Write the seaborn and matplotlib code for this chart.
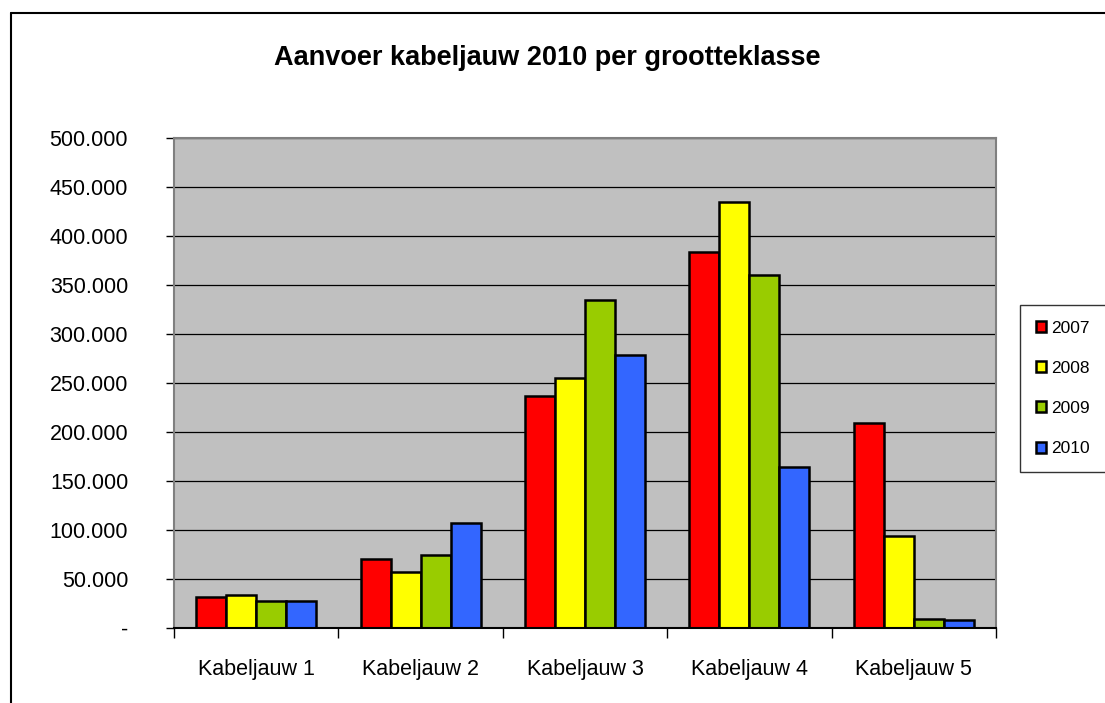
# Aanvoer kabeljauw 2010 per grootteklasse - grouped bar chart
import pandas as pd
import numpy as np
import matplotlib
matplotlib.use("Agg")
import matplotlib.pyplot as plt
from matplotlib.lines import Line2D
from matplotlib.ticker import FuncFormatter
import seaborn as sns

# ------------------------------------------
# DATA
# ------------------------------------------
categories = ["Kabeljauw 1", "Kabeljauw 2", "Kabeljauw 3", "Kabeljauw 4", "Kabeljauw 5"]
years = ["2007", "2008", "2009", "2010"]

val_2007 = [31600, 70400, 237000, 384000, 209000]
val_2008 = [34100, 57000, 255000, 434700, 93900]
val_2009 = [27200, 74000, 334700, 360000, 9200]
val_2010 = [27200, 107000, 278600, 164600, 7900]

colors = ["#FF0000", "#FFFF00", "#99CC00", "#3366FF"]

rows = []
for year, vals in zip(years, [val_2007, val_2008, val_2009, val_2010]):
    for cat, v in zip(categories, vals):
        rows.append({"Klasse": cat, "Jaar": year, "Aanvoer": v})
df = pd.DataFrame(rows)

# ------------------------------------------
# PLOT
# ------------------------------------------
sns.set_theme(style="white")
plt.rcParams["font.family"] = ["Liberation Sans", "DejaVu Sans"]
plt.rcParams["text.color"] = "black"
plt.rcParams["xtick.color"] = "black"
plt.rcParams["ytick.color"] = "black"
plt.rcParams["axes.labelcolor"] = "black"

fig = plt.figure(figsize=(11.05, 7.03), dpi=100)
ax = fig.add_axes([174 / 1105, 1 - 628 / 703, (996 - 174) / 1105, (628 - 138) / 703])

sns.barplot(data=df, x="Klasse", y="Aanvoer", hue="Jaar", hue_order=years,
            palette=colors, width=0.73, edgecolor="black", linewidth=1.8,
            saturation=1, ax=ax)

ax.set_facecolor("#C0C0C0")
ax.set_axisbelow(True)
ax.set_ylim(0, 500000)
ax.set_xlim(-0.5, 4.5)
ax.set_yticks(np.arange(0, 500001, 50000))
ax.yaxis.grid(True, color="black", linewidth=0.9)
ax.xaxis.grid(False)


def fmt(v, pos):
    if v == 0:
        return "-"
    return f"{int(v):,}".replace(",", ".")


ax.yaxis.set_major_formatter(FuncFormatter(fmt))
ax.set_xlabel("")
ax.set_ylabel("")

ax.tick_params(axis="y", which="major", direction="out", length=6, width=1,
               color="black", labelcolor="black", labelsize=15.5, pad=27, left=True)
ax.tick_params(axis="x", which="major", length=0, labelsize=15.5,
               labelcolor="black", pad=22)
ax.set_xticks(np.arange(-0.5, 5, 1), minor=True)
ax.tick_params(axis="x", which="minor", direction="out", length=7, width=1,
               color="black", bottom=True)

for side in ["top", "right", "left"]:
    ax.spines[side].set_color("#808080")
    ax.spines[side].set_linewidth(1.5)
ax.spines["bottom"].set_color("black")
ax.spines["bottom"].set_linewidth(1.5)

# legend
handles, labels = ax.get_legend_handles_labels()
ax.get_legend().remove()
leg = fig.legend(handles, labels, loc="upper left",
                 bbox_to_anchor=(1020 / 1105, 1 - 305 / 703),
                 bbox_transform=fig.transFigure, borderaxespad=0,
                 fontsize=12.5, handlelength=0.6, handleheight=0.6,
                 handletextpad=0.3, labelspacing=1.45, borderpad=0.9,
                 fancybox=False, frameon=True, edgecolor="black")
leg.get_frame().set_linewidth(1.0)

# title
fig.text(547 / 1105, 1 - 58 / 703, "Aanvoer kabeljauw 2010 per grootteklasse",
         ha="center", va="center", fontsize=19.5, fontweight="bold", color="black")

# chart border
fig.add_artist(Line2D([11 / 1105, 1], [1 - 13 / 703, 1 - 13 / 703],
                      transform=fig.transFigure, color="black", linewidth=1.5))
fig.add_artist(Line2D([11 / 1105, 11 / 1105], [0, 1 - 13 / 703],
                      transform=fig.transFigure, color="black", linewidth=1.5))

fig.savefig("out.png", dpi=100)
